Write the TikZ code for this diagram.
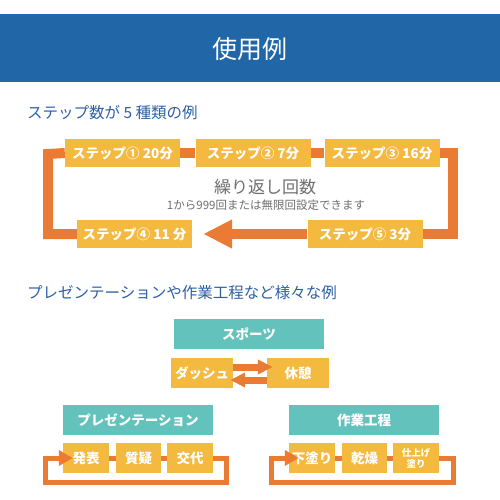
\documentclass[tikz,border=0pt]{standalone}
\usepackage{fontspec}
\setmainfont{Noto Sans CJK JP}
\usetikzlibrary{arrows.meta}
\definecolor{hdblue}{HTML}{2167A8}
\definecolor{subblue}{HTML}{2C5FA3}
\definecolor{boxyel}{HTML}{F4B93F}
\definecolor{looporg}{HTML}{E97B35}
\definecolor{teal}{HTML}{63C2BC}
\definecolor{txtgray}{HTML}{6E6E6E}

\begin{document}
\begin{tikzpicture}[x=1pt,y=-1pt,
    box/.style={fill=boxyel,text=white,inner sep=0pt,minimum height=28pt,minimum width=115pt,
      font=\bfseries\fontsize{13.5}{15}\selectfont},
    sbox/.style={box,minimum height=30pt,minimum width=46pt},
    headbox/.style={fill=teal,text=white,inner sep=0pt,minimum height=30pt,minimum width=150pt,
      font=\bfseries\fontsize{13.5}{15}\selectfont},
    subtitle/.style={anchor=west,text=subblue,inner sep=0pt,font=\fontsize{15.5}{18}\selectfont},
    bigloop/.style={draw=looporg,line width=10pt},
    thinloop/.style={draw=looporg,line width=5pt},
    swaparrow/.style={draw=looporg,line width=7pt,-{Triangle[length=15pt,width=14pt]}}]
  \useasboundingbox (0,0) rectangle (500,500);
  % header
  \fill[hdblue] (0,14) rectangle (500,82);
  \node[text=white,font=\fontsize{25}{28}\selectfont] (title) at (250,49) {使用例};
  % five steps
  \node[subtitle] (sub1) at (27,113) {ステップ数が 5 種類の例};
  \node[box] (s1) at (122.5,153) {ステップ① 20分};
  \node[box] (s2) at (253,153) {ステップ② 7分};
  \node[box] (s3) at (382,153) {ステップ③ 16分};
  \node[box] (s4) at (134.5,234) {ステップ④ 11 分};
  \node[box] (s5) at (365,234) {ステップ⑤ 3分};
  \coordinate (cl) at (48,154);
  \coordinate (cr) at (453,234);
  \draw[bigloop] (s1.east) -- (s2.west);
  \draw[bigloop] (s2.east) -- (s3.west);
  \draw[bigloop] (s3.east) -| (cr) -- (s5.east);
  \draw[bigloop] (s4.west) -| (cl) -- (s1.west);
  \draw[bigloop,-{Triangle[length=29pt,width=27pt]},shorten >=11pt] (s5.west) -- (s4.east);
  \node[text=txtgray,font=\fontsize{17}{20}\selectfont] (rep) at (265,187) {繰り返し回数};
  \node[text=txtgray,font=\fontsize{11.5}{13}\selectfont] (repnote) at (266,205) {1から999回または無限回設定できます};
  % other examples
  \node[subtitle] (sub2) at (27,293) {プレゼンテーションや作業工程など様々な例};
  \node[headbox] (sports) at (249,334) {スポーツ};
  \node[sbox,minimum width=62pt] (dash) at (202,373) {ダッシュ};
  \node[sbox,minimum width=62pt] (rest) at (298,373) {休憩};
  \draw[swaparrow,shorten >=-6pt] ([yshift=6pt]dash.east) -- ([yshift=6pt]rest.west);
  \draw[swaparrow,shorten >=-3pt] ([yshift=-7pt]rest.west) -- ([yshift=-7pt]dash.east);
  \node[headbox] (pres) at (138,420) {プレゼンテーション};
  \node[sbox] (talk) at (86,458) {発表};
  \node[sbox,minimum width=45pt] (qa) at (138.5,458) {質疑};
  \node[sbox] (change) at (190,458) {交代};
  \coordinate (pr) at (226.5,482);
  \coordinate (pl) at (45.5,482);
  \draw[thinloop] (talk.east) -- (qa.west);
  \draw[thinloop] (qa.east) -- (change.west);
  \draw[thinloop,-{Triangle[length=14pt,width=15pt]},shorten >=-10pt] (change.east) -| (pr) -- (pl) |- (talk.west);
  \node[headbox] (work) at (364,420) {作業工程};
  \node[sbox] (base) at (312,458) {下塗り};
  \node[sbox,minimum width=45pt] (dry) at (364.5,458) {乾燥};
  \node[sbox,align=center,font=\bfseries\fontsize{9.5}{11}\selectfont] (finish) at (416,458) {仕上げ\\塗り};
  \coordinate (wr) at (453.5,482);
  \coordinate (wl) at (271.5,482);
  \draw[thinloop] (base.east) -- (dry.west);
  \draw[thinloop] (dry.east) -- (finish.west);
  \draw[thinloop,-{Triangle[length=14pt,width=15pt]},shorten >=-10pt] (finish.east) -| (wr) -- (wl) |- (base.west);
\end{tikzpicture}
\end{document}
